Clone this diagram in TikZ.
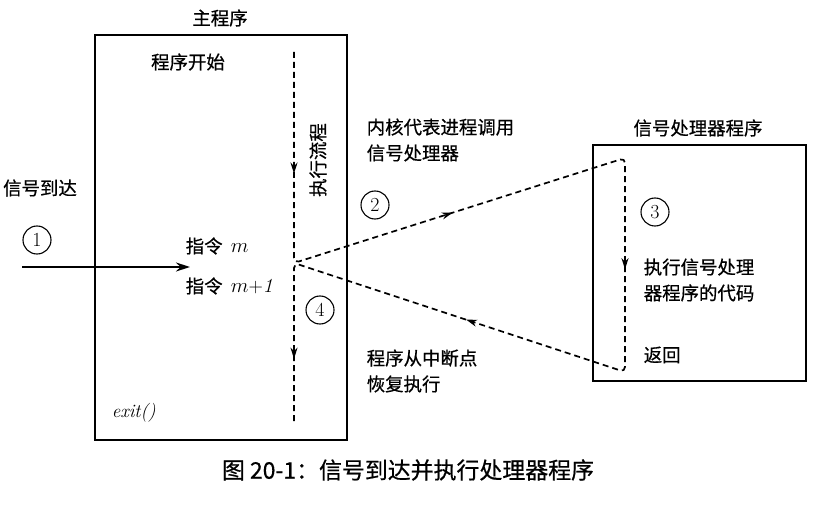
\documentclass[tikz,border=0pt]{standalone}
\usepackage{fontspec}
\newfontfamily\cjk[FakeBold=0.6]{Noto Sans CJK SC}
\usetikzlibrary{arrows.meta,decorations.markings}

\begin{document}
\begin{tikzpicture}[x=1bp,y=-1bp,>={Stealth[length=14bp,width=9bp]},line width=1.5bp,
  txt/.style={font=\cjk\fontsize{18.5}{26}\selectfont,inner sep=0pt},
  num/.style={draw,circle,line width=1.1bp,minimum size=28bp,inner sep=0pt,font=\fontsize{20}{20}\selectfont},
  flow/.style={line width=1.7bp,dash pattern=on 6bp off 4bp,rounded corners=5bp}]
\useasboundingbox (0,0) rectangle (820,514);
% two programs
\draw (95,35) rectangle (347,440);
\draw (593,145) rectangle (806,381);
\node[txt] (mainlbl) at (220,18) {主程序};
\node[txt] (hlbl) at (698,128) {信号处理器程序};
% main program texts
\node[txt] (start) at (188,62) {程序开始};
\node[txt,rotate=90] (flowlbl) at (318,160) {执行流程};
\node[txt,anchor=west] (instm) at (185,246) {指令\ \ \rmfamily\fontsize{20}{20}\selectfont$m$};
\node[txt,anchor=west] (instm1) at (185,286) {指令\ \ \rmfamily\fontsize{20}{20}\selectfont$m$+\textit{1}};
\node[anchor=west,inner sep=0pt,font=\fontsize{19}{20}\selectfont\itshape] (exit) at (111,413) {exit()};
% signal arrives
\node[txt] (sig) at (40,188) {信号到达};
\node[num] (n1) at (37,240) {1};
\coordinate (sigstart) at (22,267);
\coordinate (sigend) at (190,267);
\draw[->] (sigstart) -- (sigend);
% kernel / return texts
\node[txt,anchor=west,align=left] (kernel) at (366,140) {内核代表进程调用\\信号处理器};
\node[txt,anchor=west,align=left] (resume) at (366,371) {程序从中断点\\恢复执行};
\node[num] (n2) at (375,205) {2};
\node[num] (n4) at (320,310) {4};
% handler texts
\node[num] (n3) at (655,212) {3};
\node[txt,anchor=west,align=left] (exec) at (643,280) {执行信号处理\\器程序的代码};
\node[txt,anchor=west] (ret) at (643,355) {返回};
% flow of control
\coordinate (top) at (294,52);
\coordinate (J) at (294,263);
\coordinate (h1) at (625,158);
\coordinate (h2) at (625,372);
\coordinate (bot) at (294,422);
\draw[flow,postaction={decorate,decoration={markings,
    mark=at position 122pt with {\arrow[solid]{Stealth[length=11bp,width=7bp]}},
    mark=at position 376pt with {\arrow[solid]{Stealth[length=11bp,width=7bp]}},
    mark=at position 666pt with {\arrow[solid]{Stealth[length=11bp,width=7bp]}},
    mark=at position 934pt with {\arrow[solid]{Stealth[length=11bp,width=7bp]}},
    mark=at position 1209pt with {\arrow[solid]{Stealth[length=11bp,width=7bp]}}}}]
  (top) -- (J) -- (h1) -- (h2) -- (J) -- (bot);
% caption
\node[font=\cjk\fontsize{23}{25}\selectfont,inner sep=0pt] (cap) at (408,470) {图 20-1：信号到达并执行处理器程序};
\end{tikzpicture}
\end{document}
